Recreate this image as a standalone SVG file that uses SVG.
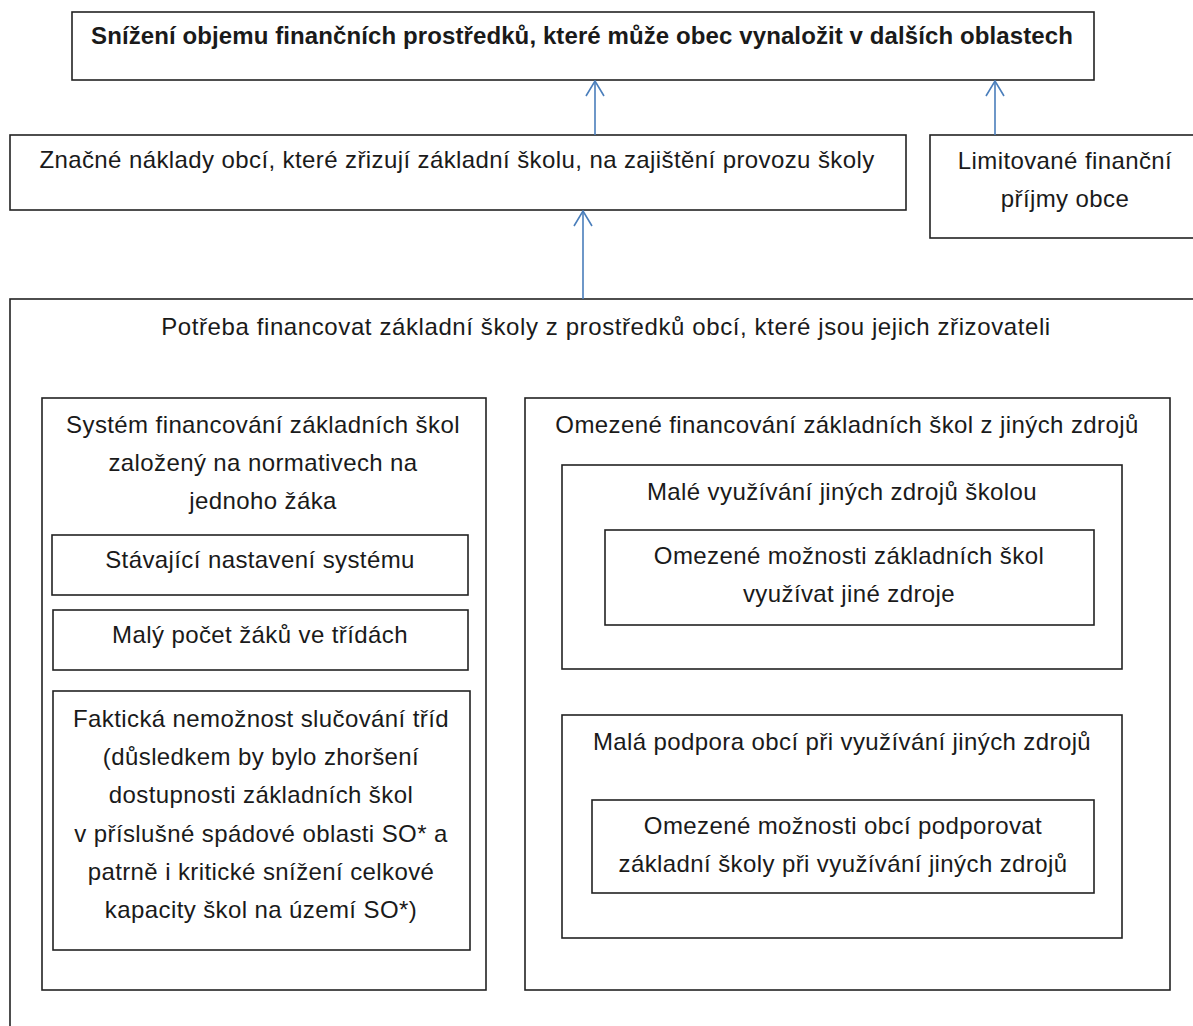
<svg xmlns="http://www.w3.org/2000/svg" width="1193" height="1026" viewBox="0 0 1193 1026">
<style>
.box{fill:none;stroke:#222;stroke-width:1.6}
.t{font-family:"Liberation Sans",Arial,sans-serif;font-size:24px;letter-spacing:0.4px;fill:#1a1a1a;text-anchor:middle}
.b{font-weight:bold;letter-spacing:0.1px}
.conn{stroke:#4a7ebb;stroke-width:1.6;fill:none}
</style>
<defs>
<marker id="arr" viewBox="0 0 17 20" refX="16" refY="10" markerWidth="17" markerHeight="20" markerUnits="userSpaceOnUse" orient="auto">
<path d="M1,1 L16,10 L1,19" fill="none" stroke="#4a7ebb" stroke-width="1.6"/>
</marker>
</defs>
<rect width="1193" height="1026" fill="#fff"/>
<g id="n-top">
<rect class="box" x="72" y="12" width="1022" height="68"/>
<text class="t b" x="582" y="44">Snížení objemu finančních prostředků, které může obec vynaložit v dalších oblastech</text>
</g>
<g id="n-naklady">
<rect class="box" x="10" y="135" width="896" height="75"/>
<text class="t" x="457" y="168">Značné náklady obcí, které zřizují základní školu, na zajištění provozu školy</text>
</g>
<g id="n-prijmy">
<rect class="box" x="930" y="135" width="300" height="103"/>
<text class="t" x="1065" y="169">Limitované finanční</text>
<text class="t" x="1065" y="207">příjmy obce</text>
</g>
<g id="n-potreba">
<rect class="box" x="10" y="299" width="1220" height="780"/>
<text class="t" x="606" y="335" style="letter-spacing:0.6px">Potřeba financovat základní školy z prostředků obcí, které jsou jejich zřizovateli</text>
</g>
<g id="n-system">
<rect class="box" x="42" y="398" width="444" height="592"/>
<text class="t" x="263" y="433">Systém financování základních škol</text>
<text class="t" x="263" y="471">založený na normativech na</text>
<text class="t" x="263" y="509">jednoho žáka</text>
</g>
<g id="n-stavajici">
<rect class="box" x="52" y="535" width="416" height="60"/>
<text class="t" x="260" y="568">Stávající nastavení systému</text>
</g>
<g id="n-maly-pocet">
<rect class="box" x="53" y="610" width="415" height="60"/>
<text class="t" x="260" y="643">Malý počet žáků ve třídách</text>
</g>
<g id="n-fakticka">
<rect class="box" x="53" y="691" width="417" height="259"/>
<text class="t" x="261" y="727">Faktická nemožnost slučování tříd</text>
<text class="t" x="261" y="765">(důsledkem by bylo zhoršení</text>
<text class="t" x="261" y="803">dostupnosti základních škol</text>
<text class="t" x="261" y="842">v příslušné spádové oblasti SO* a</text>
<text class="t" x="261" y="880">patrně i kritické snížení celkové</text>
<text class="t" x="261" y="918">kapacity škol na území SO*)</text>
</g>
<g id="n-omezene-fin">
<rect class="box" x="525" y="398" width="645" height="592"/>
<text class="t" x="847" y="433">Omezené financování základních škol z jiných zdrojů</text>
</g>
<g id="n-male-vyuz">
<rect class="box" x="562" y="465" width="560" height="204"/>
<text class="t" x="842" y="500">Malé využívání jiných zdrojů školou</text>
</g>
<g id="n-omez-skol">
<rect class="box" x="605" y="530" width="489" height="95"/>
<text class="t" x="849" y="564">Omezené možnosti základních škol</text>
<text class="t" x="849" y="602">využívat jiné zdroje</text>
</g>
<g id="n-mala-podpora">
<rect class="box" x="562" y="715" width="560" height="223"/>
<text class="t" x="842" y="750">Malá podpora obcí při využívání jiných zdrojů</text>
</g>
<g id="n-omez-obci">
<rect class="box" x="592" y="800" width="502" height="93"/>
<text class="t" x="843" y="834">Omezené možnosti obcí podporovat</text>
<text class="t" x="843" y="872">základní školy při využívání jiných zdrojů</text>
</g>
<g id="connectors">
<line class="conn" x1="595" y1="135" x2="595" y2="81" marker-end="url(#arr)"/>
<line class="conn" x1="995" y1="135" x2="995" y2="81" marker-end="url(#arr)"/>
<line class="conn" x1="583" y1="299" x2="583" y2="211" marker-end="url(#arr)"/>
</g>
</svg>
